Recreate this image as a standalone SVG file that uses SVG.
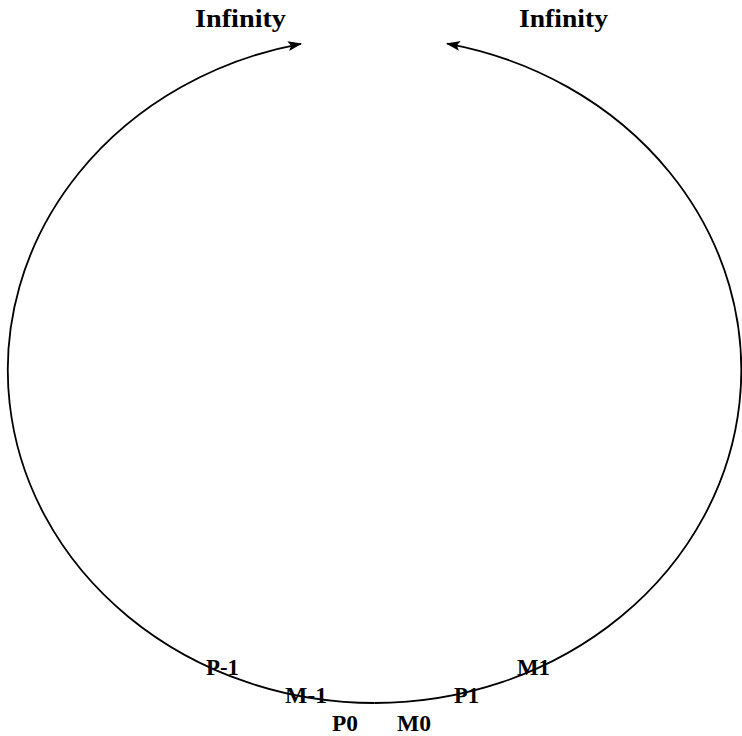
<svg xmlns="http://www.w3.org/2000/svg" width="742" height="736" viewBox="0 0 742 736">
  <style>
    .lbl { font-family: "Liberation Serif", "Times New Roman", serif; font-weight: bold; font-size: 24px; fill: #000; }
    .inf { font-size: 26px; }
    .arc { fill: none; stroke: #000; stroke-width: 1.8; }
  </style>
  <defs>
    <marker id="ah" markerWidth="14" markerHeight="10" refX="13" refY="5" orient="auto" markerUnits="userSpaceOnUse">
      <path d="M0,0 L14,5 L0,10 L3,5 Z" fill="#000"/>
    </marker>
  </defs>
  <rect width="742" height="736" fill="#fff"/>
  <g id="connectors">
    <path class="arc" d="M 374.5 703 A 367 333 0 0 1 301 43.8" marker-end="url(#ah)"/>
    <path class="arc" d="M 374.5 703 A 367 333 0 0 0 447 43.6" marker-end="url(#ah)"/>
  </g>
  <g id="infinity-left"><text class="lbl inf" x="195" y="27" textLength="91" lengthAdjust="spacingAndGlyphs">Infinity</text></g>
  <g id="infinity-right"><text class="lbl inf" x="519" y="27" textLength="89" lengthAdjust="spacingAndGlyphs">Infinity</text></g>
  <g id="p-1"><text class="lbl" x="206" y="675" textLength="33" lengthAdjust="spacingAndGlyphs">P-1</text></g>
  <g id="m-1"><text class="lbl" x="285" y="703" textLength="42" lengthAdjust="spacingAndGlyphs">M-1</text></g>
  <g id="p0"><text class="lbl" x="332" y="731" textLength="26" lengthAdjust="spacingAndGlyphs">P0</text></g>
  <g id="m0"><text class="lbl" x="397" y="731" textLength="34" lengthAdjust="spacingAndGlyphs">M0</text></g>
  <g id="p1"><text class="lbl" x="454" y="703" textLength="25" lengthAdjust="spacingAndGlyphs">P1</text></g>
  <g id="m1"><text class="lbl" x="517" y="675" textLength="33" lengthAdjust="spacingAndGlyphs">M1</text></g>
</svg>
